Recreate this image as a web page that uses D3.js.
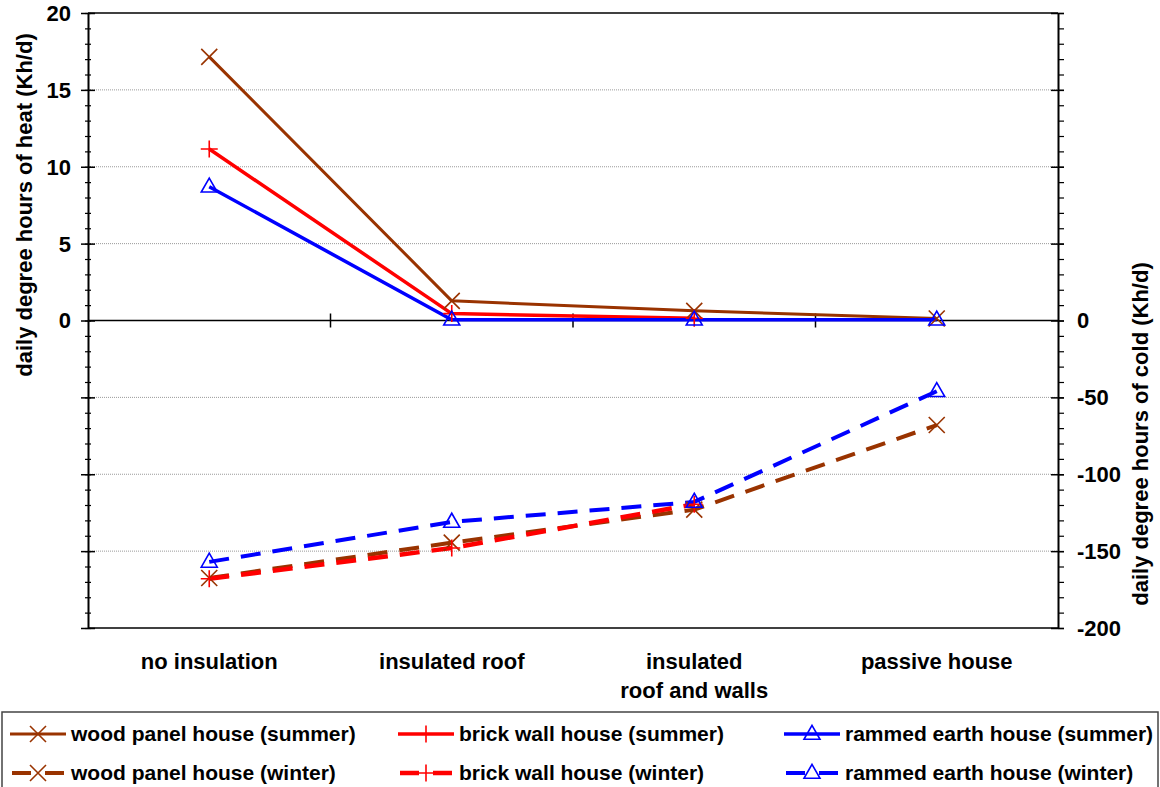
<!DOCTYPE html>
<html>
<head>
<meta charset="utf-8">
<script src="https://cdn.jsdelivr.net/npm/d3@7"></script>
<style>
  html, body { margin: 0; padding: 0; background: #fff; }
  svg text { font-family: "Liberation Sans", Arial, sans-serif; font-weight: bold; fill: #000; }
</style>
</head>
<body>
<svg id="chart" width="1160" height="787"></svg>
<script>
// Building variants along the x axis
const categories = ["no insulation", "insulated roof", "insulated\nroof and walls", "passive house"];

// Summer: daily degree hours of heat (left axis, Kh/d)
const woodSummer  = [17.15, 1.28, 0.63, 0.13];
const brickSummer = [11.15, 0.45, 0.15, null];
const earthSummer = [8.7, 0.05, 0.05, 0.05];

// Winter: daily degree hours of cold (right axis, Kh/d)
const woodWinter  = [-167.5, -144.5, -123, -68];
const brickWinter = [-168, -148, -119.5, null];
const earthWinter = [-157, -131, -118, -46];

// Axis tick values
const leftLabels  = [0, 5, 10, 15, 20];
const rightLabels = [0, -50, -100, -150, -200];

const leftTitle  = "daily degree hours of heat (Kh/d)";
const rightTitle = "daily degree hours of cold (Kh/d)";

const BROWN = "#993300", RED = "#ff0000", BLUE = "#0000ff";

const series = [
  { name: "wood panel house (summer)",   values: woodSummer,  axis: "left",  color: BROWN, marker: "x",   width: 3,   dash: null },
  { name: "brick wall house (summer)",   values: brickSummer, axis: "left",  color: RED,   marker: "+",   width: 3.5, dash: null },
  { name: "rammed earth house (summer)", values: earthSummer, axis: "left",  color: BLUE,  marker: "tri", width: 3.5, dash: null },
  { name: "wood panel house (winter)",   values: woodWinter,  axis: "right", color: BROWN, marker: "x",   width: 4,   dash: "20,12" },
  { name: "brick wall house (winter)",   values: brickWinter, axis: "right", color: RED,   marker: "+",   width: 4.5, dash: "20,12" },
  { name: "rammed earth house (winter)", values: earthWinter, axis: "right", color: BLUE,  marker: "tri", width: 4,   dash: "20,12" }
];

const svg = d3.select("#chart");
const plot = { left: 88, right: 1058, top: 13, bottom: 628 };

const x = d3.scaleBand().domain(categories).range([plot.left, plot.right]);
const cx = c => x(c) + x.bandwidth() / 2;
const yL = d3.scaleLinear().domain([-20, 20]).range([plot.bottom, plot.top]);
const yR = d3.scaleLinear().domain([-200, 200]).range([plot.bottom, plot.top]);

// Horizontal dotted gridlines
const gridVals = [-15, -10, -5, 5, 10, 15];
svg.append("g").selectAll("line").data(gridVals).join("line")
  .attr("x1", plot.left).attr("x2", plot.right)
  .attr("y1", d => yL(d)).attr("y2", d => yL(d))
  .attr("stroke", "#9a9a9a").attr("stroke-width", 1).attr("stroke-dasharray", "1,1");

// Frame top and bottom
svg.append("line").attr("x1", plot.left).attr("x2", plot.right)
  .attr("y1", plot.top).attr("y2", plot.top).attr("stroke", "#000").attr("stroke-width", 1.5);
svg.append("line").attr("x1", plot.left).attr("x2", plot.right)
  .attr("y1", plot.bottom).attr("y2", plot.bottom).attr("stroke", "#000").attr("stroke-width", 1.5);

// Zero line with category separators
svg.append("line").attr("x1", plot.left).attr("x2", plot.right)
  .attr("y1", yL(0)).attr("y2", yL(0)).attr("stroke", "#000").attr("stroke-width", 1.5);
svg.append("g").selectAll("line").data(categories.slice(1)).join("line")
  .attr("x1", d => x(d)).attr("x2", d => x(d))
  .attr("y1", yL(0) - 7).attr("y2", yL(0) + 7)
  .attr("stroke", "#000").attr("stroke-width", 1.5);

// Left axis: minor ticks, then major ticks with labels
const gLminor = svg.append("g").attr("transform", `translate(${plot.left},0)`)
  .call(d3.axisLeft(yL).tickValues(d3.range(-20, 21, 1)).tickSize(3).tickFormat(""));
gLminor.select(".domain").remove();
gLminor.selectAll(".tick line").attr("x2", -3).attr("x1", 3).attr("stroke-width", 1.2);

const gL = svg.append("g").attr("transform", `translate(${plot.left},0)`)
  .call(d3.axisLeft(yL).tickValues(d3.range(-20, 21, 5)).tickSizeInner(7).tickSizeOuter(0).tickPadding(10)
    .tickFormat(d => leftLabels.includes(d) ? String(d) : ""));
gL.select(".domain").attr("stroke-width", 2);
gL.selectAll(".tick line").attr("x1", 7).attr("stroke-width", 1.5);
gL.selectAll(".tick text").attr("font-size", 22).attr("dy", "0.34em");

// Right axis
const gRminor = svg.append("g").attr("transform", `translate(${plot.right},0)`)
  .call(d3.axisRight(yR).tickValues(d3.range(-200, 201, 10)).tickSize(6).tickFormat(""));
gRminor.select(".domain").remove();
gRminor.selectAll(".tick line").attr("stroke-width", 1.2);

const gR = svg.append("g").attr("transform", `translate(${plot.right},0)`)
  .call(d3.axisRight(yR).tickValues(d3.range(-200, 201, 50)).tickSizeInner(6).tickSizeOuter(0).tickPadding(13)
    .tickFormat(d => rightLabels.includes(d) ? String(d) : ""));
gR.select(".domain").attr("stroke-width", 2);
gR.selectAll(".tick line").attr("x1", -7).attr("stroke-width", 1.5);
gR.selectAll(".tick text").attr("font-size", 22).attr("dy", "0.34em");

// Axis titles
svg.append("text").attr("transform", `translate(32,205) rotate(-90)`)
  .attr("text-anchor", "middle").attr("font-size", 22).text(leftTitle);
svg.append("text").attr("transform", `translate(1148,434) rotate(-90)`)
  .attr("text-anchor", "middle").attr("font-size", 22).text(rightTitle);

// Category labels (multi-line)
const catG = svg.append("g");
categories.forEach(c => {
  const lines = c.split("\n");
  const t = catG.append("text").attr("x", cx(c)).attr("y", 669)
    .attr("text-anchor", "middle").attr("font-size", 22);
  lines.forEach((ln, i) => t.append("tspan").attr("x", cx(c)).attr("dy", i ? 29 : 0).text(ln));
});

// Marker drawing
function drawMarker(g, type, px, py, color) {
  if (type === "x") {
    const s = 8;
    g.append("path").attr("d", `M${px - s},${py - s}L${px + s},${py + s}M${px - s},${py + s}L${px + s},${py - s}`)
      .attr("stroke", color).attr("stroke-width", 1.6).attr("fill", "none");
  } else if (type === "+") {
    const s = 8.5;
    g.append("path").attr("d", `M${px - s},${py}L${px + s},${py}M${px},${py - s}L${px},${py + s}`)
      .attr("stroke", color).attr("stroke-width", 1.6).attr("fill", "none");
  } else {
    const h = 14, w = 16;
    g.append("path").attr("d", `M${px},${py - h * 0.62}L${px + w / 2},${py + h * 0.38}L${px - w / 2},${py + h * 0.38}Z`)
      .attr("stroke", color).attr("stroke-width", 1.6).attr("fill", "none");
  }
}

// Series lines and markers
const linesG = svg.append("g");
series.forEach(s => {
  const y = s.axis === "left" ? yL : yR;
  const pts = categories.map((c, i) => ({ c, v: s.values[i] })).filter(d => d.v !== null);
  const line = d3.line().x(d => cx(d.c)).y(d => y(d.v));
  const p = linesG.append("path").datum(pts).attr("d", line)
    .attr("fill", "none").attr("stroke", s.color).attr("stroke-width", s.width)
    .attr("stroke-linejoin", "round");
  if (s.dash) p.attr("stroke-dasharray", s.dash);
});
series.forEach(s => {
  const y = s.axis === "left" ? yL : yR;
  categories.forEach((c, i) => {
    if (s.values[i] !== null) drawMarker(linesG, s.marker, cx(c), y(s.values[i]), s.color);
  });
});

// Legend
const lg = svg.append("g");
lg.append("rect").attr("x", 2).attr("y", 712).attr("width", 1156).attr("height", 90)
  .attr("fill", "none").attr("stroke", "#444").attr("stroke-width", 1.5);
const colX = [10, 398, 784];
const rowY = [734, 773];
series.forEach((s, i) => {
  const col = i % 3, row = Math.floor(i / 3);
  const x0 = colX[col], yy = rowY[row], x1 = x0 + 56, mx = x0 + 28;
  if (s.dash) {
    lg.append("line").attr("x1", x0 + 2).attr("x2", mx - 7).attr("y1", yy).attr("y2", yy)
      .attr("stroke", s.color).attr("stroke-width", s.width);
    lg.append("line").attr("x1", mx + 7).attr("x2", x1 - 2).attr("y1", yy).attr("y2", yy)
      .attr("stroke", s.color).attr("stroke-width", s.width);
  } else {
    lg.append("line").attr("x1", x0).attr("x2", x1).attr("y1", yy).attr("y2", yy)
      .attr("stroke", s.color).attr("stroke-width", s.width);
  }
  drawMarker(lg, s.marker, mx, yy, s.color);
  lg.append("text").attr("x", x1 + 5).attr("y", yy).attr("dy", "0.35em")
    .attr("font-size", 21).text(s.name);
});
</script>
</body>
</html>
